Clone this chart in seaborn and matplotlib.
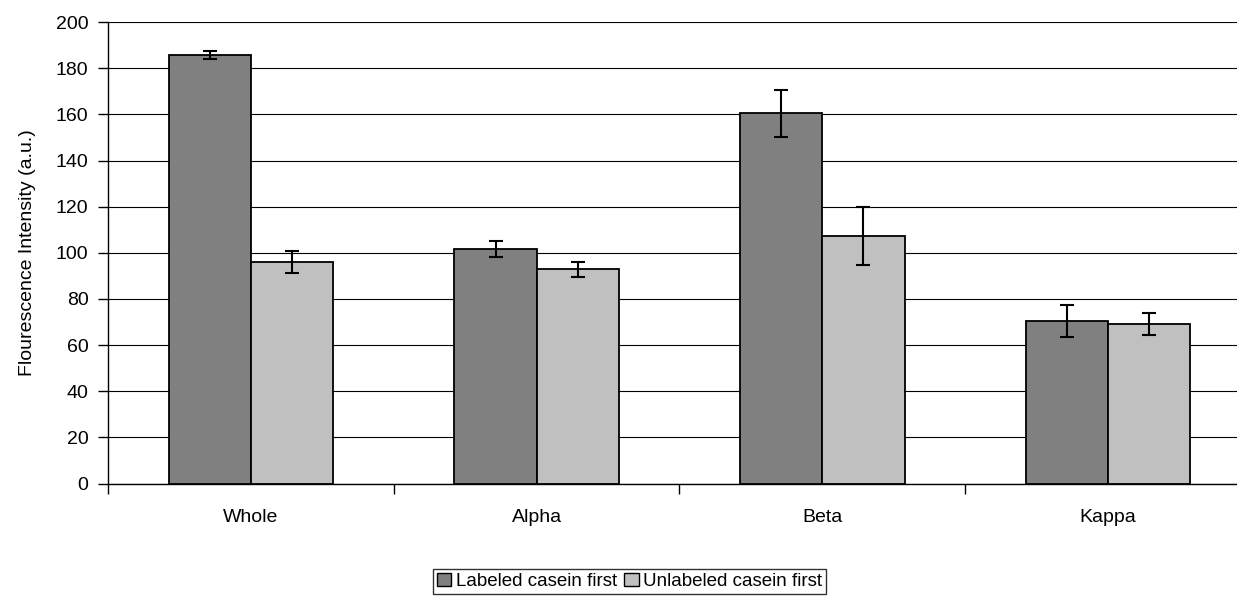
import matplotlib
matplotlib.use("Agg")
import matplotlib.pyplot as plt
import seaborn as sns
import pandas as pd
import numpy as np

categories = ["Whole", "Alpha", "Beta", "Kappa"]
series_names = ["Labeled casein first", "Unlabeled casein first"]
labeled_vals = [185.8, 101.8, 160.5, 70.3]
labeled_err = [1.7, 3.5, 10.2, 6.9]
unlabeled_vals = [96.0, 92.8, 107.3, 69.3]
unlabeled_err = [4.8, 3.1, 12.5, 4.8]
y_ticks = [0, 20, 40, 60, 80, 100, 120, 140, 160, 180, 200]

sns.set_theme(style="white")
plt.rcParams['font.family'] = ['Liberation Sans', 'DejaVu Sans']
plt.rcParams['text.color'] = 'black'
plt.rcParams['xtick.color'] = 'black'
plt.rcParams['ytick.color'] = 'black'
plt.rcParams['axes.labelcolor'] = 'black'

df = pd.DataFrame({
    "cat": categories * 2,
    "series": [series_names[0]] * 4 + [series_names[1]] * 4,
    "val": labeled_vals + unlabeled_vals,
})

fig = plt.figure(figsize=(12.37, 5.98), dpi=100)
ax = fig.add_axes([108 / 1237, 1 - 483.5 / 598, (1251 - 108) / 1237, (483.5 - 22.1) / 598])

sns.barplot(data=df, x="cat", y="val", hue="series", order=categories,
            hue_order=series_names, palette=["#808080", "#C0C0C0"],
            edgecolor="black", linewidth=1.3, width=0.575, gap=0,
            errorbar=None, ax=ax, legend=True, zorder=3)

# error bars
errs = {series_names[0]: labeled_err, series_names[1]: unlabeled_err}
vals = {series_names[0]: labeled_vals, series_names[1]: unlabeled_vals}
for container, name in zip(ax.containers, series_names):
    xs = [p.get_x() + p.get_width() / 2 for p in container.patches]
    ax.errorbar(xs, vals[name], yerr=errs[name], fmt="none", ecolor="black",
                elinewidth=1.5, capsize=5, capthick=1.5, zorder=4)

ax.set_xlim(-0.5, 3.5)
ax.set_ylim(0, 200)
ax.set_yticks(y_ticks)
ax.yaxis.grid(True, color="black", linewidth=0.8, zorder=0)
ax.set_axisbelow(True)
for s in ["top", "right"]:
    ax.spines[s].set_visible(False)
for s in ["left", "bottom"]:
    ax.spines[s].set_color("black")
    ax.spines[s].set_linewidth(1.0)

ax.set_xticks([0, 1, 2, 3])
ax.set_xticklabels(categories, fontsize=14)
ax.tick_params(axis="x", length=0, pad=18)
ax.set_xticks([-0.5, 0.5, 1.5, 2.5, 3.5], minor=True)
ax.tick_params(axis="x", which="minor", length=7, width=1, color="black", direction="out", bottom=True)
ax.tick_params(axis="y", length=7, width=1, color="black", direction="out", labelsize=14, left=True, pad=7)
ax.set_xlabel("")
ax.set_ylabel("Flourescence Intensity (a.u.)", fontsize=14, labelpad=14)

ax.get_legend().remove()
handles = [plt.Rectangle((0, 0), 1, 1, facecolor=c, edgecolor="black", linewidth=1)
           for c in ["#808080", "#C0C0C0"]]
leg = fig.legend(handles, series_names, loc="center", bbox_to_anchor=(0.509, 0.028),
                 ncol=2, fontsize=13.5, frameon=True, fancybox=False, edgecolor="black",
                 handlelength=0.75, handleheight=0.75, handletextpad=0.25, columnspacing=0.4,
                 borderpad=0.2, borderaxespad=0)
leg.get_frame().set_linewidth(1.0)

fig.savefig("out.png", dpi=100)
